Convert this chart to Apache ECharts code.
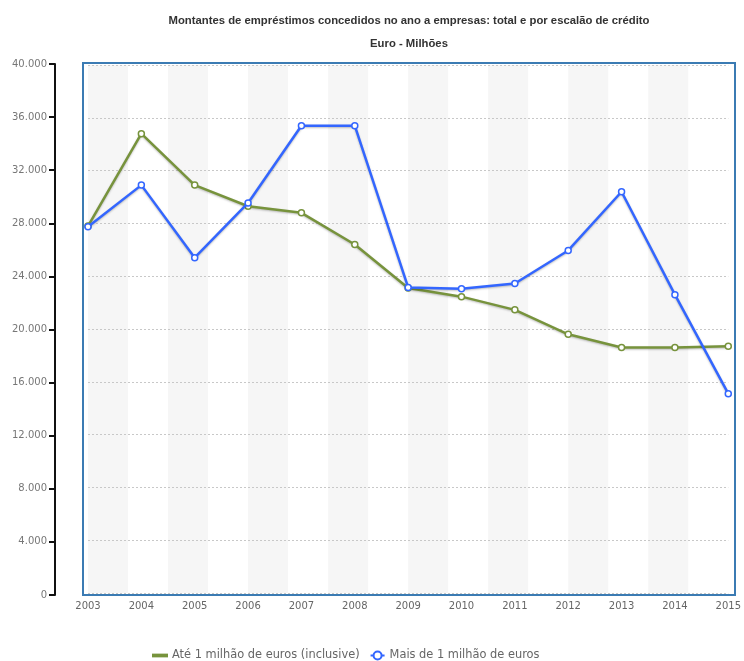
<!DOCTYPE html>
<html>
<head>
<meta charset="utf-8">
<script src="https://cdn.jsdelivr.net/npm/echarts@6/dist/echarts.min.js"></script>
<style>
  html, body { margin: 0; padding: 0; background: #fff; }
  #main { width: 744px; height: 661px; }
</style>
</head>
<body>
<div id="main"></div>
<script>
var years = ['2003', '2004', '2005', '2006', '2007', '2008', '2009', '2010', '2011', '2012', '2013', '2014', '2015'];
var ate1Milhao = [27800, 34800, 30900, 29300, 28800, 26400, 23100, 22450, 21450, 19600, 18600, 18600, 18700];
var mais1Milhao = [27750, 30900, 25400, 29550, 35400, 35400, 23150, 23050, 23450, 25950, 30400, 22600, 15100];
var seriesNames = ['Até 1 milhão de euros (inclusive)', 'Mais de 1 milhão de euros'];

var myChart = echarts.init(document.getElementById('main'));

var fmt = function (v) {
    return String(v).replace(/\B(?=(\d{3})+(?!\d))/g, '.');
};

var option = {
    backgroundColor: '#fff',
    animation: false,
    title: {
        text: 'Montantes de empréstimos concedidos no ano a empresas: total e por escalão de crédito',
        subtext: 'Euro - Milhões',
        left: 404,
        textAlign: 'center',
        top: 10,
        itemGap: 12,
        textStyle: { fontFamily: 'Liberation Sans', fontSize: 11.3, fontWeight: 'bold', color: '#333' },
        subtextStyle: { fontFamily: 'Liberation Sans', fontSize: 11.3, fontWeight: 'bold', color: '#333' }
    },
    legend: {
        left: 152,
        bottom: 0,
        padding: 0,
        itemWidth: 14,
        itemHeight: 10,
        itemGap: 10,
        textStyle: { fontFamily: 'DejaVu Sans', fontSize: 11.4, color: '#666' },
        data: [
            { name: seriesNames[0], icon: 'path://M0,4 L20,4 L20,6.5 L0,6.5 Z' },
            { name: seriesNames[1] }
        ]
    },
    grid: [
        // box frame
        { left: 83, right: 9, top: 63, bottom: 66, show: true, borderColor: '#3b7bb3', borderWidth: 2, backgroundColor: 'transparent' },
        // plotting area
        { left: 88, right: 14, top: 65, bottom: 68 },
        // separate y axis on the left
        { left: 55, width: 1, top: 64, bottom: 66 }
    ],
    xAxis: [
        { gridIndex: 0, type: 'value', show: false },
        {
            gridIndex: 1, type: 'category', data: years, boundaryGap: false,
            axisLine: { show: false }, axisTick: { show: false }, splitLine: { show: false },
            axisLabel: { fontFamily: 'DejaVu Sans', fontSize: 10, color: '#666', margin: 8 }
        },
        {
            gridIndex: 1, type: 'value', min: 0, max: 16, interval: 1, show: true,
            position: 'top', z: 0,
            axisLine: { show: false }, axisTick: { show: false }, axisLabel: { show: false },
            splitLine: { show: false },
            splitArea: { show: true, areaStyle: { color: ['#f6f6f6', 'rgba(255,255,255,0)'] } }
        },
        { gridIndex: 2, type: 'value', show: false }
    ],
    yAxis: [
        { gridIndex: 0, type: 'value', show: false },
        {
            gridIndex: 1, type: 'value', min: 0, max: 40000, interval: 4000, z: 1,
            axisLine: { show: false }, axisTick: { show: false }, axisLabel: { show: false },
            splitLine: { show: true, lineStyle: { color: '#c8c8c8', type: [2, 2], width: 1 } }
        },
        {
            gridIndex: 2, type: 'value', min: 0, max: 40000, interval: 4000,
            axisLine: { show: true, lineStyle: { color: '#111', width: 2 } },
            axisTick: { show: true, length: 6, lineStyle: { color: '#111', width: 2 } },
            axisLabel: { fontFamily: 'DejaVu Sans', fontSize: 10, color: '#777', margin: 8, formatter: fmt },
            splitLine: { show: false }
        }
    ],
    series: [
        {
            name: seriesNames[0], type: 'line', xAxisIndex: 1, yAxisIndex: 1,
            data: ate1Milhao,
            symbol: 'circle', symbolSize: 6,
            itemStyle: { color: '#fff', borderColor: '#77933c', borderWidth: 1.5 },
            lineStyle: { color: '#77933c', width: 2.5, shadowColor: 'rgba(0,0,0,0.25)', shadowBlur: 2, shadowOffsetY: 1 },
            z: 3
        },
        {
            name: seriesNames[1], type: 'line', xAxisIndex: 1, yAxisIndex: 1,
            data: mais1Milhao,
            symbol: 'circle', symbolSize: 6,
            itemStyle: { color: '#fff', borderColor: '#3366ff', borderWidth: 1.5 },
            lineStyle: { color: '#3366ff', width: 2.5, shadowColor: 'rgba(0,0,0,0.25)', shadowBlur: 2, shadowOffsetY: 1 },
            z: 4
        }
    ]
};

myChart.setOption(option);
</script>
</body>
</html>
